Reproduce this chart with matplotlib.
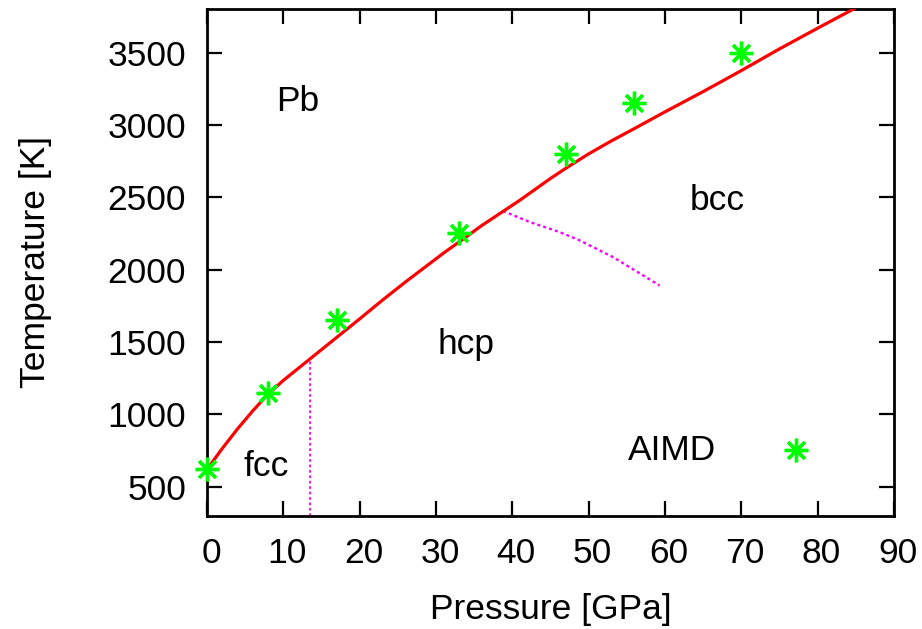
import matplotlib
matplotlib.use("Agg")
import matplotlib.pyplot as plt
from matplotlib.transforms import ScaledTranslation

plt.rcParams['font.family'] = ['Liberation Sans', 'DejaVu Sans']

# Melting curve of Pb (pressure in GPa, temperature in K)
melt_p = [0, 2, 4, 6, 8, 10, 12, 14, 16, 18, 20, 23, 26, 29, 31, 33, 36, 39,
          41, 43, 45, 47, 50, 53, 56, 60, 65, 70, 75, 80, 84.7]
melt_t = [620, 765, 900, 1025, 1140, 1235, 1320, 1405, 1490, 1575, 1660, 1790, 1915, 2035,
          2115, 2190, 2305, 2410, 2480, 2555, 2630, 2700, 2800, 2890, 2975, 3090, 3230,
          3375, 3525, 3668, 3800]

# fcc-hcp boundary
fcc_hcp_p = [13.5, 13.5]
fcc_hcp_t = [300, 1385]

# hcp-bcc boundary
hcp_bcc_p = [38.8, 42.3, 46.2, 48.8, 53.2, 59.3]
hcp_bcc_t = [2405, 2329, 2260, 2203, 2087, 1891]

# AIMD melting points
aimd_p = [0, 8, 17, 33, 47, 56, 70]
aimd_t = [620, 1145, 1650, 2250, 2800, 3150, 3500]

phase_labels = ["Pb", "fcc", "hcp", "bcc"]
phase_pos = [(11.9, 3160), (7.7, 640), (33.9, 1480), (66.9, 2480)]

x_ticks = [0, 10, 20, 30, 40, 50, 60, 70, 80, 90]
y_ticks = [500, 1000, 1500, 2000, 2500, 3000, 3500]

FS = 25.5

fig = plt.figure(figsize=(9.22, 6.29), dpi=100)
ax = fig.add_axes([0.2245, 0.1800, 0.7450, 0.8055])

ax.plot(melt_p, melt_t, color='#ff0000', lw=2.3, zorder=3)
ax.plot(fcc_hcp_p, fcc_hcp_t, color='#ff00ff', lw=1.3, ls=(0, (1.5, 1.5)), zorder=2)
ax.plot(hcp_bcc_p, hcp_bcc_t, color='#ff00ff', lw=1.7, ls=(0, (1.3, 1.3)), zorder=2)

star = (8, 2, 0)
ax.plot(aimd_p, aimd_t, ls='none', marker=star, ms=17, mew=2.4, color='#00ff00', zorder=4, clip_on=False)

# key
ax.text(61.0, 750, "AIMD", fontsize=FS, ha='center', va='center')
ax.plot([77.2], [755], ls='none', marker=star, ms=17, mew=2.4, color='#00ff00')

for lab, (px, py) in zip(phase_labels, phase_pos):
    ax.text(px, py, lab, fontsize=FS, ha='center', va='center')

ax.set_xlim(0, 90)
ax.set_ylim(300, 3800)
ax.set_xticks(x_ticks)
ax.set_yticks(y_ticks)
ax.tick_params(direction='in', length=11, width=1.6, top=True, right=True, labelsize=FS)
ax.tick_params(axis='y', pad=15)
ax.tick_params(axis='x', pad=15)
for s in ax.spines.values():
    s.set_linewidth(2.0)

shift = ScaledTranslation(4 / 100, 0, fig.dpi_scale_trans)
for lbl in ax.get_xticklabels():
    lbl.set_transform(lbl.get_transform() + shift)

ax.set_xlabel("Pressure [GPa]", fontsize=FS, labelpad=17)
ax.set_ylabel("Temperature [K]", fontsize=FS, labelpad=40)

fig.savefig("out.png", dpi=100)
